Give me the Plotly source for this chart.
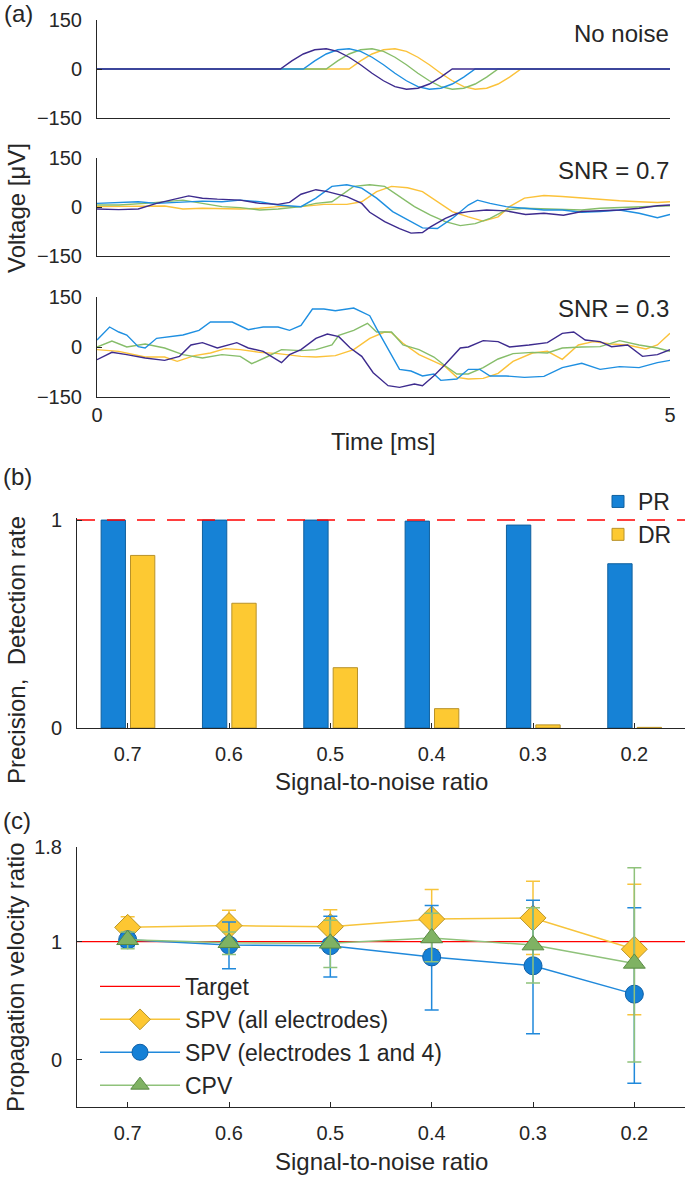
import plotly.graph_objects as go

W, H = 685, 1177

# ---------------- Panel (a) data ----------------
# clean action-potential-like waveform (uV) sampled every 0.1 ms
clean_wave = [0, 25, 46, 59, 62, 54, 36, 13, -13, -36, -54, -62, -59, -46, -25, 0]
clean_step = 0.1
clean_onsets = [1.6, 1.8, 2.0, 2.2]  # purple, blue, green, yellow

# SNR = 0.7 traces (time ms, voltage uV)
t07_purple = [0, 0.19, 0.36, 0.52, 0.80, 0.92, 1.05, 1.25, 1.42, 1.58, 1.68, 1.78, 1.91, 2.01, 2.18, 2.31, 2.38, 2.51, 2.64, 2.74, 2.84, 2.91, 3.04, 3.14, 3.24, 3.40, 3.57, 3.74, 3.90, 4.07, 4.23, 4.40, 4.56, 4.73, 4.89, 5.0]
v07_purple = [-6, -8, -6, 11, 34, 27, 24, 21, 11, 8, 14, 39, 53, 47, 32, 11, -16, -45, -66, -80, -78, -61, -35, -20, -14, -9, -12, -23, -19, -25, -14, -12, -9, -4, 4, 6]
t07_blue = [0, 0.19, 0.36, 0.52, 0.75, 0.92, 1.09, 1.25, 1.42, 1.58, 1.78, 1.91, 2.05, 2.18, 2.31, 2.44, 2.58, 2.71, 2.84, 2.97, 3.10, 3.24, 3.32, 3.43, 3.57, 3.73, 3.90, 4.06, 4.23, 4.39, 4.56, 4.73, 4.89, 5.0]
v07_blue = [11, 14, 16, 11, 16, 18, 16, 21, 16, 6, 1, 27, 63, 68, 58, 27, -14, -40, -64, -66, -35, 6, 21, 11, 1, -4, -9, -9, -16, -14, -9, -19, -33, -23]
t07_green = [0, 0.19, 0.42, 0.75, 0.92, 1.09, 1.25, 1.42, 1.58, 1.78, 1.91, 2.05, 2.24, 2.38, 2.51, 2.64, 2.77, 2.91, 3.04, 3.17, 3.30, 3.43, 3.57, 3.73, 3.90, 4.06, 4.23, 4.39, 4.56, 4.73, 4.89, 5.0]
v07_green = [6, 6, 11, 21, 11, 1, -2, -9, -6, 1, 11, 16, 63, 68, 63, 32, 1, -25, -45, -57, -51, -35, -9, -4, -6, -9, -9, -4, -2, 1, 1, 4]
t07_yellow = [0, 0.19, 0.42, 0.59, 0.75, 0.92, 1.25, 1.42, 1.58, 1.78, 1.98, 2.18, 2.31, 2.44, 2.57, 2.71, 2.84, 2.97, 3.10, 3.24, 3.37, 3.50, 3.60, 3.73, 3.90, 4.06, 4.23, 4.39, 4.56, 4.73, 4.89, 5.0]
v07_yellow = [1, 1, 1, 3, -6, -4, -6, -4, 1, 1, 8, 8, 16, 47, 63, 59, 47, 16, -14, -30, -43, -30, 1, 27, 35, 32, 27, 22, 19, 16, 14, 16]

# SNR = 0.3 traces
t03_purple = [0, 0.13, 0.26, 0.42, 0.59, 0.72, 0.82, 0.92, 1.05, 1.22, 1.32, 1.45, 1.61, 1.68, 1.78, 1.91, 2.01, 2.11, 2.21, 2.31, 2.41, 2.54, 2.64, 2.77, 2.84, 2.94, 3.04, 3.17, 3.24, 3.37, 3.50, 3.60, 3.77, 3.93, 4.06, 4.16, 4.26, 4.39, 4.49, 4.63, 4.76, 4.89, 5.0]
v03_purple = [-38, -16, -23, -33, -40, -28, 6, 13, -3, 13, -3, -13, -47, -23, -8, 26, 39, 31, -3, -28, -77, -116, -121, -111, -116, -86, -52, -3, 0, 19, 16, 0, 6, 13, 41, 45, 21, 16, 1, 6, -28, -23, -8]
t03_blue = [0, 0.11, 0.19, 0.26, 0.36, 0.42, 0.52, 0.66, 0.75, 0.89, 0.99, 1.09, 1.18, 1.32, 1.45, 1.58, 1.68, 1.78, 1.88, 1.98, 2.08, 2.24, 2.38, 2.44, 2.54, 2.64, 2.74, 2.84, 2.94, 3.00, 3.14, 3.24, 3.34, 3.43, 3.57, 3.73, 3.90, 4.06, 4.23, 4.39, 4.56, 4.73, 4.89, 5.0]
v03_blue = [21, 60, 45, 36, 1, -3, 26, 31, 36, 50, 75, 75, 75, 52, 60, 60, 50, 65, 114, 114, 109, 117, 94, 55, -8, -67, -72, -87, -81, -100, -96, -67, -67, -87, -87, -91, -88, -62, -49, -67, -59, -62, -47, -40]
t03_green = [0, 0.13, 0.26, 0.42, 0.59, 0.75, 0.92, 1.09, 1.25, 1.35, 1.48, 1.61, 1.78, 1.91, 2.05, 2.11, 2.24, 2.36, 2.44, 2.57, 2.67, 2.81, 2.94, 3.04, 3.14, 3.24, 3.37, 3.50, 3.63, 3.80, 3.93, 4.06, 4.23, 4.39, 4.56, 4.73, 4.89, 5.0]
v03_green = [0, 18, 0, 9, -3, -23, -33, -23, -28, -50, -30, -8, -11, -8, 6, 35, 50, 71, 45, 45, 6, -8, -30, -57, -81, -81, -62, -36, -20, -16, -18, -3, 0, 1, 19, 6, -3, -13]
t03_yellow = [0, 0.19, 0.42, 0.59, 0.70, 0.85, 0.99, 1.12, 1.25, 1.42, 1.58, 1.78, 1.91, 2.08, 2.24, 2.38, 2.51, 2.57, 2.67, 2.81, 2.94, 3.04, 3.14, 3.24, 3.37, 3.50, 3.63, 3.80, 3.93, 4.06, 4.20, 4.33, 4.49, 4.63, 4.79, 4.89, 5.0]
v03_yellow = [-8, -13, -30, -30, -43, -26, -18, -5, -8, -16, -20, -28, -30, -26, -8, 26, 45, 43, 11, -23, -43, -59, -91, -96, -94, -79, -43, -18, -13, -37, 6, 16, 9, 6, -6, 6, 41]

# ---------------- Panel (b) data ----------------
snr_labels = ["0.7", "0.6", "0.5", "0.4", "0.3", "0.2"]
precision_rate = [1.0, 1.0, 1.0, 0.995, 0.976, 0.79]
detection_rate = [0.83, 0.60, 0.29, 0.093, 0.015, 0.003]

# ---------------- Panel (c) data ----------------
spv_all = [1.12, 1.135, 1.125, 1.19, 1.20, 0.935]
spv_all_hi = [1.21, 1.265, 1.27, 1.44, 1.51, 1.485]
spv_all_lo = [1.03, 1.01, 0.98, 0.93, 0.89, 0.38]
spv_14 = [1.015, 0.97, 0.965, 0.87, 0.795, 0.555]
spv_14_hi = [1.07, 1.165, 1.215, 1.305, 1.35, 1.285]
spv_14_lo = [0.955, 0.77, 0.70, 0.42, 0.22, -0.20]
cpv = [1.015, 0.99, 0.985, 1.03, 0.97, 0.815]
cpv_hi = [1.08, 1.08, 1.18, 1.24, 1.285, 1.625]
cpv_lo = [0.94, 0.89, 0.78, 0.83, 0.65, -0.02]
target_value = 1.0

# ---------------- styling ----------------
C_PURPLE = "#3D2B8E"
C_BLUE = "#1E8FE1"
C_GREEN = "#86BD6A"
C_YELLOW = "#FBC23A"
AXC = "#262626"
FONT = "Liberation Sans, Arial, sans-serif"
TICKF = dict(family=FONT, size=20, color="#262626")
BIG = 24
LEGF = 23

fig = go.Figure()


def px_x(p):
    return p / W


def px_y(p):
    return 1 - p / H


# panel (a) traces
trace_colors = [C_YELLOW, C_GREEN, C_BLUE, C_PURPLE]
onset_idx = [3, 2, 1, 0]
for col, oi in zip(trace_colors, onset_idx):
    on = clean_onsets[oi]
    tt = [0] + [on + clean_step * k for k in range(len(clean_wave))] + [5]
    vv = [0] + clean_wave + [0]
    fig.add_trace(go.Scatter(x=tt, y=vv, mode="lines", line=dict(color=col, width=1.4),
                             xaxis="x", yaxis="y", showlegend=False))

sets07 = [(t07_yellow, v07_yellow, C_YELLOW), (t07_green, v07_green, C_GREEN),
          (t07_blue, v07_blue, C_BLUE), (t07_purple, v07_purple, C_PURPLE)]
for tt, vv, col in sets07:
    fig.add_trace(go.Scatter(x=tt, y=vv, mode="lines", line=dict(color=col, width=1.4),
                             xaxis="x2", yaxis="y2", showlegend=False))
sets03 = [(t03_yellow, v03_yellow, C_YELLOW), (t03_green, v03_green, C_GREEN),
          (t03_blue, v03_blue, C_BLUE), (t03_purple, v03_purple, C_PURPLE)]
for tt, vv, col in sets03:
    fig.add_trace(go.Scatter(x=tt, y=vv, mode="lines", line=dict(color=col, width=1.4),
                             xaxis="x3", yaxis="y3", showlegend=False))

# panel (b)
xi = list(range(len(snr_labels)))
fig.add_trace(go.Bar(x=xi, y=precision_rate, name="PR", width=0.24, offset=-0.262,
                     marker=dict(color="#1682D6", line=dict(color="#10609E", width=1)),
                     xaxis="x4", yaxis="y4", legend="legend"))
fig.add_trace(go.Bar(x=xi, y=detection_rate, name="DR", width=0.24, offset=0.028,
                     marker=dict(color="#FDC932", line=dict(color="#B8922A", width=1)),
                     xaxis="x4", yaxis="y4", legend="legend"))
fig.add_trace(go.Scatter(x=[-0.5, 5.5], y=[target_value, target_value], mode="lines",
                         line=dict(color="#FF0000", width=1.5, dash="18px,12px"),
                         xaxis="x4", yaxis="y4", showlegend=False))

# panel (c)
fig.add_trace(go.Scatter(x=[-0.5, 5.5], y=[target_value, target_value], mode="lines",
                         name="Target", line=dict(color="#FF0000", width=1.3),
                         xaxis="x5", yaxis="y5", legend="legend2"))


def err(mean, hi, lo):
    return ([h - m for h, m in zip(hi, mean)], [m - l for m, l in zip(mean, lo)])


series_c = [
    ("SPV (all electrodes)", spv_all, spv_all_hi, spv_all_lo, "#F7C43B", "#FDC732", "#B8952A", "diamond", 20),
    ("SPV (electrodes 1 and 4)", spv_14, spv_14_hi, spv_14_lo, "#2089DB", "#1580D6", "#0F5FA6", "circle", 18),
    ("CPV", cpv, cpv_hi, cpv_lo, "#8FC27B", "#7FB263", "#5A8A45", "triangle-up", 19),
]
for name, m, hi, lo, lc, fc, ec, sym, sz in series_c:
    up, dn = err(m, hi, lo)
    fig.add_trace(go.Scatter(
        x=xi, y=m, name=name, mode="lines+markers",
        line=dict(color=lc, width=1.5),
        marker=dict(symbol=sym, size=sz, color=fc, line=dict(color=ec, width=1)),
        error_y=dict(type="data", symmetric=False, array=up, arrayminus=dn,
                     color=lc, thickness=1.5, width=7),
        xaxis="x5", yaxis="y5", legend="legend2"))

# ---------------- axes ----------------
common = dict(showline=True, linecolor=AXC, linewidth=1, ticks="inside", ticklen=5,
              tickcolor=AXC, showgrid=False, zeroline=False, tickfont=TICKF,
              automargin=False)

xa_dom = [px_x(97), px_x(670)]
a_rows = [(20, 118), (158, 256), (297, 397)]
layout = dict(
    width=W, height=H, paper_bgcolor="white", plot_bgcolor="white",
    margin=dict(l=0, r=0, t=0, b=0, pad=0, autoexpand=False),
    font=dict(family=FONT, color="#262626"),
    barmode="overlay",
)
for i, (top, bot) in enumerate(a_rows, start=1):
    sx = "" if i == 1 else str(i)
    layout["xaxis" + sx] = dict(common, domain=xa_dom, range=[0, 5], tickvals=[0, 5],
                                showticklabels=(i == 3), anchor="y" + sx,
                                ticklabelstandoff=0)
    layout["yaxis" + sx] = dict(common, domain=[px_y(bot), px_y(top)], range=[-150, 150],
                                tickvals=[-150, 0, 150], anchor="x" + sx,
                                ticklabelstandoff=10)

xb_dom = [px_x(77), 1.0]
layout["xaxis4"] = dict(common, domain=xb_dom, range=[-0.5, 5.5], tickvals=xi,
                        ticktext=snr_labels, anchor="y4", ticklabelstandoff=8)
layout["yaxis4"] = dict(common, domain=[px_y(728), px_y(518)], range=[0, 1.01],
                        tickvals=[0, 1], anchor="x4", ticklabelstandoff=10)
layout["xaxis5"] = dict(common, domain=xb_dom, range=[-0.5, 5.5], tickvals=xi,
                        ticktext=snr_labels, anchor="y5", ticklabelstandoff=8)
layout["yaxis5"] = dict(common, domain=[px_y(1107), px_y(847)], range=[-0.4, 1.8],
                        tickvals=[0, 1, 1.8], ticktext=["0", "1", "1.8"], anchor="x5",
                        ticklabelstandoff=10)

layout["legend"] = dict(x=px_x(598), y=px_y(480), xanchor="left", yanchor="top",
                        bgcolor="rgba(0,0,0,0)", font=dict(family=FONT, size=LEGF, color="#262626"),
                        tracegroupgap=0, itemwidth=30)
layout["legend2"] = dict(x=px_x(95), y=px_y(965), xanchor="left", yanchor="top",
                         bgcolor="rgba(0,0,0,0)", font=dict(family=FONT, size=LEGF, color="#262626"),
                         tracegroupgap=0, itemwidth=80)

fig.update_layout(**layout)


def ann(text, x, y, size=BIG, angle=0, xanchor="center"):
    fig.add_annotation(text=text, x=px_x(x), y=px_y(y), xref="paper", yref="paper",
                       showarrow=False, textangle=angle, xanchor=xanchor, yanchor="middle",
                       font=dict(family=FONT, size=size, color="#262626"))


ann("(a)", 18, 14)
ann("(b)", 17, 476)
ann("(c)", 17, 820)
ann("No noise", 671, 33, xanchor="right")
ann("SNR = 0.7", 671, 170, xanchor="right")
ann("SNR = 0.3", 671, 308, xanchor="right")
ann("Voltage [μV]", 16, 208, angle=-90)
ann("Time [ms]", 383, 441)
ann("Precision,  Detection rate", 16, 650, angle=-90)
ann("Signal-to-noise ratio", 381, 781)
ann("Propagation velocity ratio", 16, 978, angle=-90)
ann("Signal-to-noise ratio", 381, 1161)

fig.write_html(
    "out.html",
    config={"displayModeBar": False},
    post_script="document.body.style.margin='0';document.body.style.padding='0';"
                "document.body.style.overflow='hidden';",
)
